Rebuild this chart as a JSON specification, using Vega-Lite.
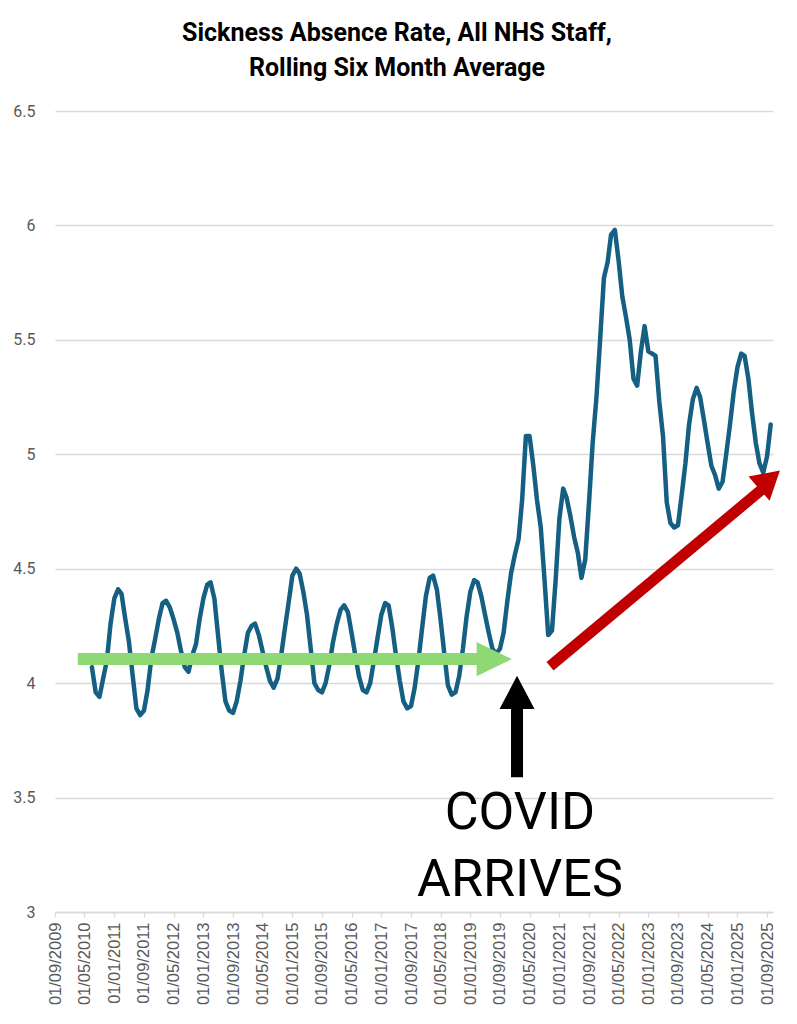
{
  "$schema": "https://vega.github.io/schema/vega-lite/v6.json",
  "width": 718,
  "height": 801,
  "autosize": {"type": "none"},
  "padding": {"left": 55, "top": 111, "right": 24, "bottom": 112},
  "background": "#ffffff",
  "config": {"view": {"stroke": null}},
  "title": {
    "text": ["Sickness Absence Rate, All NHS Staff,", "Rolling Six Month Average"],
    "font": "Roboto",
    "fontSize": 25,
    "fontWeight": "bold",
    "color": "#000000",
    "anchor": "middle",
    "dx": -17,
    "offset": 22,
    "lineHeight": 35
  },
  "datasets": {
    "series": [
      {"date": "2010-07-01", "rate": 4.07},
      {"date": "2010-08-01", "rate": 3.96},
      {"date": "2010-09-01", "rate": 3.94},
      {"date": "2010-10-01", "rate": 4.02},
      {"date": "2010-11-01", "rate": 4.10},
      {"date": "2010-12-01", "rate": 4.26},
      {"date": "2011-01-01", "rate": 4.37},
      {"date": "2011-02-01", "rate": 4.41},
      {"date": "2011-03-01", "rate": 4.39},
      {"date": "2011-04-01", "rate": 4.28},
      {"date": "2011-05-01", "rate": 4.18},
      {"date": "2011-06-01", "rate": 4.03},
      {"date": "2011-07-01", "rate": 3.89},
      {"date": "2011-08-01", "rate": 3.86},
      {"date": "2011-09-01", "rate": 3.88},
      {"date": "2011-10-01", "rate": 3.97},
      {"date": "2011-11-01", "rate": 4.11},
      {"date": "2011-12-01", "rate": 4.19},
      {"date": "2012-01-01", "rate": 4.28},
      {"date": "2012-02-01", "rate": 4.35},
      {"date": "2012-03-01", "rate": 4.36},
      {"date": "2012-04-01", "rate": 4.33},
      {"date": "2012-05-01", "rate": 4.28},
      {"date": "2012-06-01", "rate": 4.22},
      {"date": "2012-07-01", "rate": 4.14},
      {"date": "2012-08-01", "rate": 4.07},
      {"date": "2012-09-01", "rate": 4.05},
      {"date": "2012-10-01", "rate": 4.12},
      {"date": "2012-11-01", "rate": 4.17},
      {"date": "2012-12-01", "rate": 4.28},
      {"date": "2013-01-01", "rate": 4.37},
      {"date": "2013-02-01", "rate": 4.43},
      {"date": "2013-03-01", "rate": 4.44},
      {"date": "2013-04-01", "rate": 4.37},
      {"date": "2013-05-01", "rate": 4.21},
      {"date": "2013-06-01", "rate": 4.05},
      {"date": "2013-07-01", "rate": 3.92},
      {"date": "2013-08-01", "rate": 3.88},
      {"date": "2013-09-01", "rate": 3.87},
      {"date": "2013-10-01", "rate": 3.92},
      {"date": "2013-11-01", "rate": 4.01},
      {"date": "2013-12-01", "rate": 4.12},
      {"date": "2014-01-01", "rate": 4.22},
      {"date": "2014-02-01", "rate": 4.25},
      {"date": "2014-03-01", "rate": 4.26},
      {"date": "2014-04-01", "rate": 4.21},
      {"date": "2014-05-01", "rate": 4.14},
      {"date": "2014-06-01", "rate": 4.07},
      {"date": "2014-07-01", "rate": 4.01},
      {"date": "2014-08-01", "rate": 3.98},
      {"date": "2014-09-01", "rate": 4.02},
      {"date": "2014-10-01", "rate": 4.12},
      {"date": "2014-11-01", "rate": 4.24},
      {"date": "2014-12-01", "rate": 4.35},
      {"date": "2015-01-01", "rate": 4.47},
      {"date": "2015-02-01", "rate": 4.50},
      {"date": "2015-03-01", "rate": 4.48},
      {"date": "2015-04-01", "rate": 4.40},
      {"date": "2015-05-01", "rate": 4.30},
      {"date": "2015-06-01", "rate": 4.15},
      {"date": "2015-07-01", "rate": 4.00},
      {"date": "2015-08-01", "rate": 3.97},
      {"date": "2015-09-01", "rate": 3.96},
      {"date": "2015-10-01", "rate": 4.00},
      {"date": "2015-11-01", "rate": 4.08},
      {"date": "2015-12-01", "rate": 4.18},
      {"date": "2016-01-01", "rate": 4.26},
      {"date": "2016-02-01", "rate": 4.32},
      {"date": "2016-03-01", "rate": 4.34},
      {"date": "2016-04-01", "rate": 4.31},
      {"date": "2016-05-01", "rate": 4.22},
      {"date": "2016-06-01", "rate": 4.12},
      {"date": "2016-07-01", "rate": 4.03},
      {"date": "2016-08-01", "rate": 3.97},
      {"date": "2016-09-01", "rate": 3.96},
      {"date": "2016-10-01", "rate": 4.00},
      {"date": "2016-11-01", "rate": 4.10},
      {"date": "2016-12-01", "rate": 4.20},
      {"date": "2017-01-01", "rate": 4.30},
      {"date": "2017-02-01", "rate": 4.35},
      {"date": "2017-03-01", "rate": 4.34},
      {"date": "2017-04-01", "rate": 4.24},
      {"date": "2017-05-01", "rate": 4.12},
      {"date": "2017-06-01", "rate": 4.01},
      {"date": "2017-07-01", "rate": 3.92},
      {"date": "2017-08-01", "rate": 3.89},
      {"date": "2017-09-01", "rate": 3.90},
      {"date": "2017-10-01", "rate": 3.98},
      {"date": "2017-11-01", "rate": 4.10},
      {"date": "2017-12-01", "rate": 4.24},
      {"date": "2018-01-01", "rate": 4.38},
      {"date": "2018-02-01", "rate": 4.46},
      {"date": "2018-03-01", "rate": 4.47},
      {"date": "2018-04-01", "rate": 4.41},
      {"date": "2018-05-01", "rate": 4.28},
      {"date": "2018-06-01", "rate": 4.13},
      {"date": "2018-07-01", "rate": 3.99},
      {"date": "2018-08-01", "rate": 3.95},
      {"date": "2018-09-01", "rate": 3.96},
      {"date": "2018-10-01", "rate": 4.03},
      {"date": "2018-11-01", "rate": 4.15},
      {"date": "2018-12-01", "rate": 4.29},
      {"date": "2019-01-01", "rate": 4.40},
      {"date": "2019-02-01", "rate": 4.45},
      {"date": "2019-03-01", "rate": 4.44},
      {"date": "2019-04-01", "rate": 4.38},
      {"date": "2019-05-01", "rate": 4.30},
      {"date": "2019-06-01", "rate": 4.22},
      {"date": "2019-07-01", "rate": 4.15},
      {"date": "2019-08-01", "rate": 4.13},
      {"date": "2019-09-01", "rate": 4.15},
      {"date": "2019-10-01", "rate": 4.22},
      {"date": "2019-11-01", "rate": 4.36},
      {"date": "2019-12-01", "rate": 4.48},
      {"date": "2020-01-01", "rate": 4.56},
      {"date": "2020-02-01", "rate": 4.63},
      {"date": "2020-03-01", "rate": 4.80},
      {"date": "2020-04-01", "rate": 5.08},
      {"date": "2020-05-01", "rate": 5.08},
      {"date": "2020-06-01", "rate": 4.95},
      {"date": "2020-07-01", "rate": 4.80},
      {"date": "2020-08-01", "rate": 4.68},
      {"date": "2020-09-01", "rate": 4.45},
      {"date": "2020-10-01", "rate": 4.21},
      {"date": "2020-11-01", "rate": 4.23},
      {"date": "2020-12-01", "rate": 4.45},
      {"date": "2021-01-01", "rate": 4.72},
      {"date": "2021-02-01", "rate": 4.85},
      {"date": "2021-03-01", "rate": 4.81},
      {"date": "2021-04-01", "rate": 4.73},
      {"date": "2021-05-01", "rate": 4.64},
      {"date": "2021-06-01", "rate": 4.57},
      {"date": "2021-07-01", "rate": 4.46},
      {"date": "2021-08-01", "rate": 4.54},
      {"date": "2021-09-01", "rate": 4.79},
      {"date": "2021-10-01", "rate": 5.05},
      {"date": "2021-11-01", "rate": 5.25},
      {"date": "2021-12-01", "rate": 5.50},
      {"date": "2022-01-01", "rate": 5.77},
      {"date": "2022-02-01", "rate": 5.84},
      {"date": "2022-03-01", "rate": 5.96},
      {"date": "2022-04-01", "rate": 5.98},
      {"date": "2022-05-01", "rate": 5.85},
      {"date": "2022-06-01", "rate": 5.69},
      {"date": "2022-07-01", "rate": 5.60},
      {"date": "2022-08-01", "rate": 5.50},
      {"date": "2022-09-01", "rate": 5.33},
      {"date": "2022-10-01", "rate": 5.30},
      {"date": "2022-11-01", "rate": 5.45},
      {"date": "2022-12-01", "rate": 5.56},
      {"date": "2023-01-01", "rate": 5.45},
      {"date": "2023-02-01", "rate": 5.44},
      {"date": "2023-03-01", "rate": 5.43},
      {"date": "2023-04-01", "rate": 5.23},
      {"date": "2023-05-01", "rate": 5.08},
      {"date": "2023-06-01", "rate": 4.79},
      {"date": "2023-07-01", "rate": 4.70},
      {"date": "2023-08-01", "rate": 4.68},
      {"date": "2023-09-01", "rate": 4.69},
      {"date": "2023-10-01", "rate": 4.82},
      {"date": "2023-11-01", "rate": 4.96},
      {"date": "2023-12-01", "rate": 5.13},
      {"date": "2024-01-01", "rate": 5.24},
      {"date": "2024-02-01", "rate": 5.29},
      {"date": "2024-03-01", "rate": 5.25},
      {"date": "2024-04-01", "rate": 5.15},
      {"date": "2024-05-01", "rate": 5.05},
      {"date": "2024-06-01", "rate": 4.95},
      {"date": "2024-07-01", "rate": 4.91},
      {"date": "2024-08-01", "rate": 4.85},
      {"date": "2024-09-01", "rate": 4.88},
      {"date": "2024-10-01", "rate": 5.00},
      {"date": "2024-11-01", "rate": 5.13},
      {"date": "2024-12-01", "rate": 5.27},
      {"date": "2025-01-01", "rate": 5.38},
      {"date": "2025-02-01", "rate": 5.44},
      {"date": "2025-03-01", "rate": 5.43},
      {"date": "2025-04-01", "rate": 5.33},
      {"date": "2025-05-01", "rate": 5.18},
      {"date": "2025-06-01", "rate": 5.05},
      {"date": "2025-07-01", "rate": 4.96},
      {"date": "2025-08-01", "rate": 4.92},
      {"date": "2025-09-01", "rate": 4.99},
      {"date": "2025-10-01", "rate": 5.13}
    ],
    "shafts": [
      {"arrow": "green", "date": "2010-03-07", "rate": 4.105, "date2": "2019-03-19", "rate2": 4.105},
      {"arrow": "red", "date": "2020-10-16", "rate": 4.074, "date2": "2025-09-14", "rate2": 4.871},
      {"arrow": "black", "date": "2020-01-19", "rate": 3.589, "date2": "2020-01-19", "rate2": 3.908}
    ],
    "heads": [
      {"arrow": "green", "date": "2019-12-08", "rate": 4.105},
      {"arrow": "red", "date": "2025-12-16", "rate": 4.929},
      {"arrow": "black", "date": "2020-01-19", "rate": 4.032}
    ],
    "labels": [
      {"text": "COVID", "date": "2020-02-12", "rate": 3.361},
      {"text": "ARRIVES", "date": "2020-02-12", "rate": 3.068}
    ]
  },
  "encoding": {
    "x": {
      "field": "date",
      "type": "temporal",
      "scale": {
        "type": "utc",
        "domain": [
          {"year": 2009, "month": 9, "date": 1, "utc": true},
          {"year": 2025, "month": 10, "date": 20, "utc": true}
        ]
      },
      "axis": {
        "title": null,
        "values": [
          {"year": 2009, "month": 9, "date": 1, "utc": true},
          {"year": 2010, "month": 5, "date": 1, "utc": true},
          {"year": 2011, "month": 1, "date": 1, "utc": true},
          {"year": 2011, "month": 9, "date": 1, "utc": true},
          {"year": 2012, "month": 5, "date": 1, "utc": true},
          {"year": 2013, "month": 1, "date": 1, "utc": true},
          {"year": 2013, "month": 9, "date": 1, "utc": true},
          {"year": 2014, "month": 5, "date": 1, "utc": true},
          {"year": 2015, "month": 1, "date": 1, "utc": true},
          {"year": 2015, "month": 9, "date": 1, "utc": true},
          {"year": 2016, "month": 5, "date": 1, "utc": true},
          {"year": 2017, "month": 1, "date": 1, "utc": true},
          {"year": 2017, "month": 9, "date": 1, "utc": true},
          {"year": 2018, "month": 5, "date": 1, "utc": true},
          {"year": 2019, "month": 1, "date": 1, "utc": true},
          {"year": 2019, "month": 9, "date": 1, "utc": true},
          {"year": 2020, "month": 5, "date": 1, "utc": true},
          {"year": 2021, "month": 1, "date": 1, "utc": true},
          {"year": 2021, "month": 9, "date": 1, "utc": true},
          {"year": 2022, "month": 5, "date": 1, "utc": true},
          {"year": 2023, "month": 1, "date": 1, "utc": true},
          {"year": 2023, "month": 9, "date": 1, "utc": true},
          {"year": 2024, "month": 5, "date": 1, "utc": true},
          {"year": 2025, "month": 1, "date": 1, "utc": true},
          {"year": 2025, "month": 9, "date": 1, "utc": true}
        ],
        "labelExpr": "utcFormat(datum.value, '%d/%m/%Y')",
        "labelAngle": -90,
        "labelFont": "Liberation Sans",
        "labelFontSize": 16.5,
        "labelColor": "#595959",
        "labelPadding": 5,
        "labelOverlap": false,
        "labelFlush": false,
        "labelBound": false,
        "tickColor": "#d9d9d9",
        "tickSize": 5,
        "tickWidth": 1.3,
        "domainColor": "#d9d9d9",
        "domainWidth": 1.3,
        "grid": false
      }
    },
    "y": {
      "field": "rate",
      "type": "quantitative",
      "scale": {"domain": [3, 6.5], "nice": false, "zero": false},
      "axis": {
        "title": null,
        "values": [3, 3.5, 4, 4.5, 5, 5.5, 6, 6.5],
        "format": "~g",
        "domain": false,
        "ticks": false,
        "grid": true,
        "gridColor": "#d9d9d9",
        "gridWidth": 1.3,
        "labelFont": "Roboto",
        "labelFontSize": 16,
        "labelColor": "#595959",
        "labelPadding": 20
      }
    }
  },
  "layer": [
    {
      "data": {"name": "series"},
      "mark": {"type": "line", "color": "#156082", "strokeWidth": 4.5, "strokeJoin": "round", "strokeCap": "round"}
    },
    {
      "data": {"name": "shafts"},
      "transform": [{"filter": "datum.arrow === 'green'"}],
      "mark": {"type": "rule", "color": "#8ED973", "strokeWidth": 12, "strokeCap": "butt"},
      "encoding": {"x2": {"field": "date2"}, "y2": {"field": "rate2"}}
    },
    {
      "data": {"name": "heads"},
      "transform": [{"filter": "datum.arrow === 'green'"}],
      "mark": {"type": "point", "shape": "M0,0 L-2,-0.97 L-2,0.97 Z", "size": 1246, "filled": true, "opacity": 1, "color": "#8ED973", "strokeWidth": 0}
    },
    {
      "data": {"name": "shafts"},
      "transform": [{"filter": "datum.arrow === 'red'"}],
      "mark": {"type": "rule", "color": "#C00000", "strokeWidth": 11, "strokeCap": "butt"},
      "encoding": {"x2": {"field": "date2"}, "y2": {"field": "rate2"}}
    },
    {
      "data": {"name": "heads"},
      "transform": [{"filter": "datum.arrow === 'red'"}],
      "mark": {"type": "point", "shape": "M0,0 L-2,-1.16 L-2,1.16 Z", "size": 767, "angle": -41, "filled": true, "opacity": 1, "color": "#C00000", "strokeWidth": 0}
    },
    {
      "data": {"name": "shafts"},
      "transform": [{"filter": "datum.arrow === 'black'"}],
      "mark": {"type": "rule", "color": "#000000", "strokeWidth": 12, "strokeCap": "butt"},
      "encoding": {"x2": {"field": "date2"}, "y2": {"field": "rate2"}}
    },
    {
      "data": {"name": "heads"},
      "transform": [{"filter": "datum.arrow === 'black'"}],
      "mark": {"type": "point", "shape": "M0,0 L-2,-1.05 L-2,1.05 Z", "size": 1109, "angle": -90, "filled": true, "opacity": 1, "color": "#000000", "strokeWidth": 0}
    },
    {
      "data": {"name": "labels"},
      "mark": {"type": "text", "font": "Roboto", "fontSize": 52, "align": "center", "baseline": "alphabetic", "color": "#000000"},
      "encoding": {"text": {"field": "text"}}
    }
  ]
}
